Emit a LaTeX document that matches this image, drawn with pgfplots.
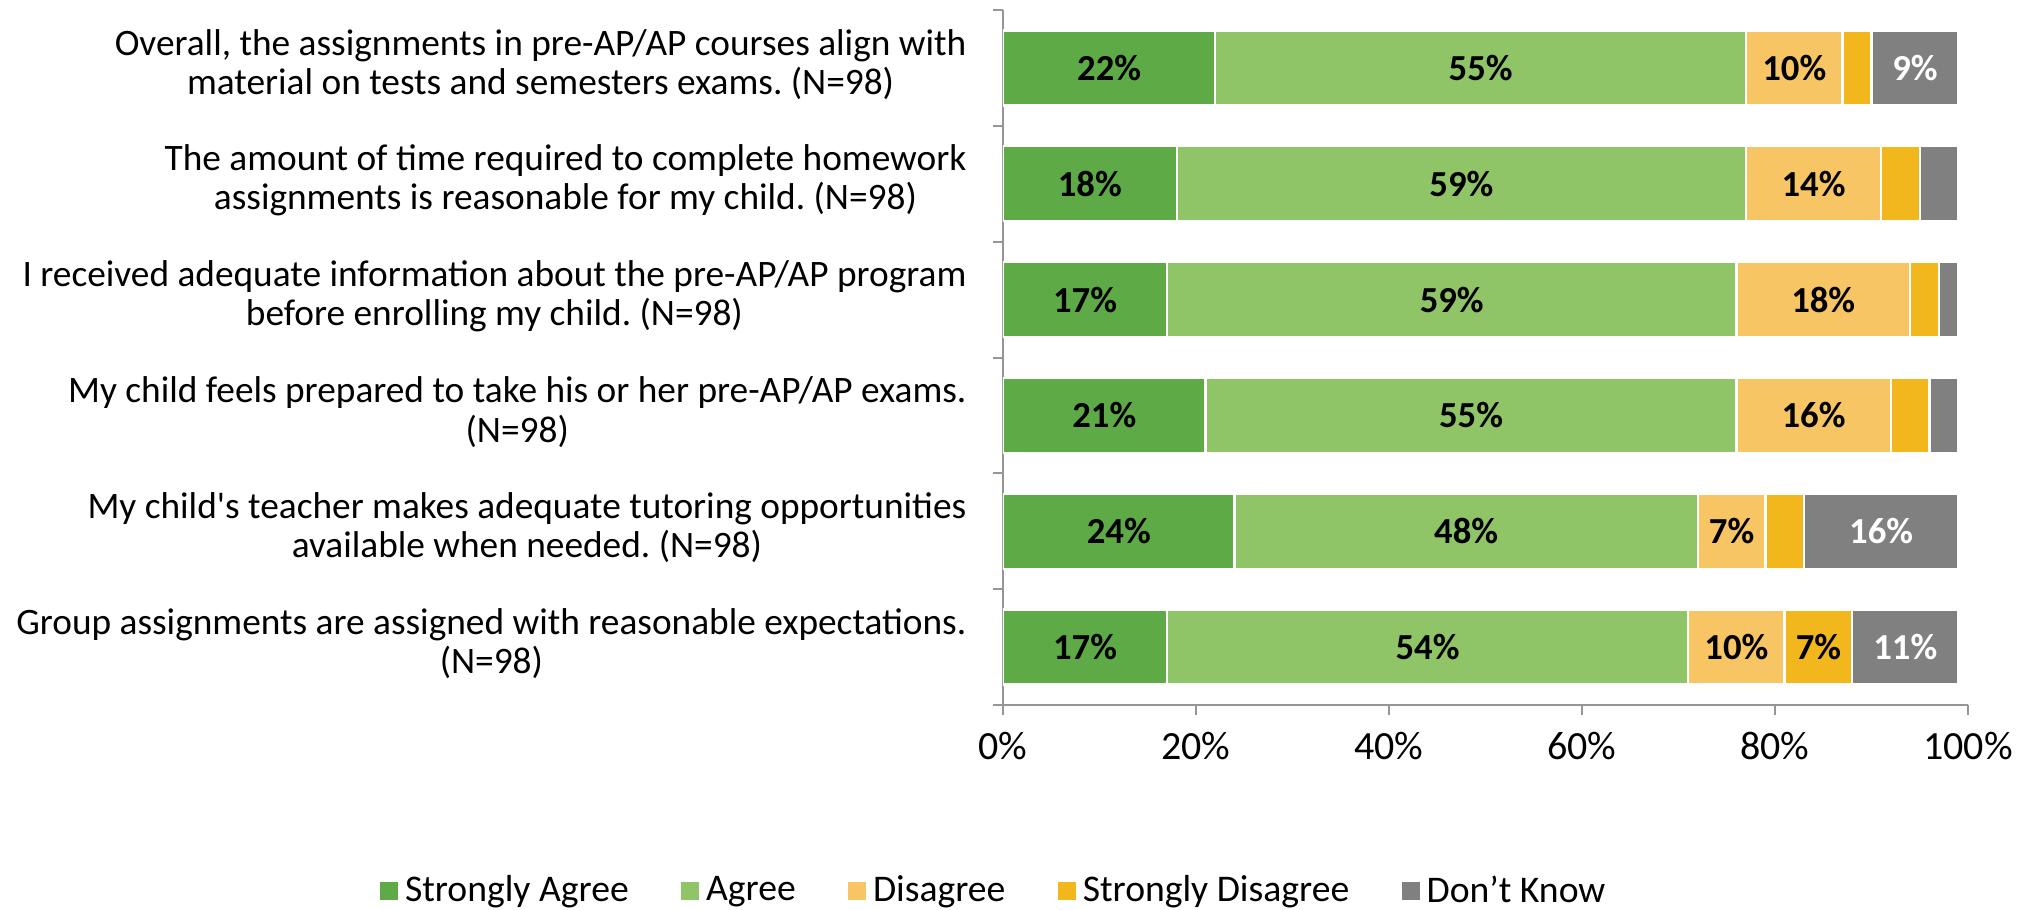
\documentclass[border=0pt]{standalone}
\usepackage{fontspec}
\setmainfont{Carlito}
\usepackage{pgfplots}
\pgfplotsset{compat=1.18}
\frenchspacing
\definecolor{sa}{RGB}{94,170,70}
\definecolor{ag}{RGB}{143,196,103}
\definecolor{di}{RGB}{247,197,99}
\definecolor{sd}{RGB}{242,183,28}
\definecolor{dk}{RGB}{128,128,128}
\definecolor{axgray}{RGB}{150,150,150}
\newcommand{\catfont}{\fontsize{11.2}{11.8}\selectfont}
\begin{document}
\begin{tikzpicture}
\useasboundingbox (-300.9pt,-61.5pt) rectangle (307.5pt,211.5pt);
\begin{axis}[
  at={(0,0)}, anchor=south west,
  scale only axis, width=289.5pt, height=208.5pt,
  xbar stacked, bar width=22.5pt,
  xmin=0, xmax=100, ymin=-0.5, ymax=5.5,
  axis x line=bottom, axis y line=left,
  axis line style={draw=axgray, line width=0.6pt, -},
  tick style={draw=axgray, line width=0.6pt},
  tick align=outside, major tick length=3pt,
  xtick={0,20,40,60,80,100},
  xticklabels={0\%,20\%,40\%,60\%,80\%,100\%},
  xticklabel style={font=\fontsize{12}{14}\selectfont, inner sep=0pt, yshift=-5pt},
  ytick={-0.5,0.5,1.5,2.5,3.5,4.5,5.5}, yticklabels={},
  extra y ticks={0,1,2,3,4,5},
  extra y tick labels={
    {Group assignments are assigned with reasonable expectations.\\(N=98)},
    {My child\textquotesingle s teacher makes adequate tutoring opportunities\\available when needed. (N=98)},
    {My child feels prepared to take his or her pre-AP/AP exams.\\(N=98)},
    {I received adequate information about the pre-AP/AP program\\before enrolling my child. (N=98)},
    {The amount of time required to complete homework\\assignments is reasonable for my child. (N=98)},
    {Overall, the assignments in pre-AP/AP courses align with\\material on tests and semesters exams. (N=98)}},
  extra y tick style={tick style={draw=none}},
  yticklabel style={align=center, font=\catfont, inner sep=0pt, xshift=-7.8pt, yshift=1pt},
  every axis plot/.append style={draw=white, line width=0.7pt},
  legend image code/.code={\path[#1,draw=none] (0pt,-2.7pt) rectangle (5.4pt,2.7pt);},
  legend style={draw=none, fill=none, legend columns=5, font=\fontsize{11.3}{13}\selectfont,
    at={(axis description cs:-0.007,-0.268)}, anchor=center,
    /tikz/every even column/.append style={column sep=13.8pt},
    inner sep=0pt},
]
\addplot[fill=sa] coordinates {(22,5) (18,4) (17,3) (21,2) (24,1) (17,0)};
\addplot[fill=ag] coordinates {(55,5) (59,4) (59,3) (55,2) (48,1) (54,0)};
\addplot[fill=di] coordinates {(10,5) (14,4) (18,3) (16,2) (7,1) (10,0)};
\addplot[fill=sd] coordinates {(3,5) (4,4) (3,3) (4,2) (4,1) (7,0)};
\addplot[fill=dk] coordinates {(9,5) (4,4) (2,3) (3,2) (16,1) (11,0)};
\legend{Strongly Agree, Agree, Disagree, Strongly Disagree, Don’t Know}
\end{axis}
\begin{axis}[
  at={(0,0)}, anchor=south west,
  scale only axis, width=289.5pt, height=208.5pt,
  xmin=0, xmax=100, ymin=-0.5, ymax=5.5,
  hide axis, clip=false,
  nodes near coords, point meta=explicit symbolic,
  every node near coord/.append style={anchor=center, font=\bfseries\fontsize{11}{13}\selectfont, inner sep=0pt},
]
\addplot[draw=none, mark=none, every node near coord/.append style={text=black}] coordinates {
  (11,5) [22\%] (49.5,5) [55\%] (82,5) [10\%]
  (9,4) [18\%] (47.5,4) [59\%] (84,4) [14\%]
  (8.5,3) [17\%] (46.5,3) [59\%] (85,3) [18\%]
  (10.5,2) [21\%] (48.5,2) [55\%] (84,2) [16\%]
  (12,1) [24\%] (48,1) [48\%] (75.5,1) [7\%]
  (8.5,0) [17\%] (44,0) [54\%] (76,0) [10\%] (84.5,0) [7\%]
};
\addplot[draw=none, mark=none, every node near coord/.append style={text=white}] coordinates {
  (94.5,5) [9\%] (91,1) [16\%] (93.5,0) [11\%]
};
\end{axis}
\end{tikzpicture}
\end{document}
